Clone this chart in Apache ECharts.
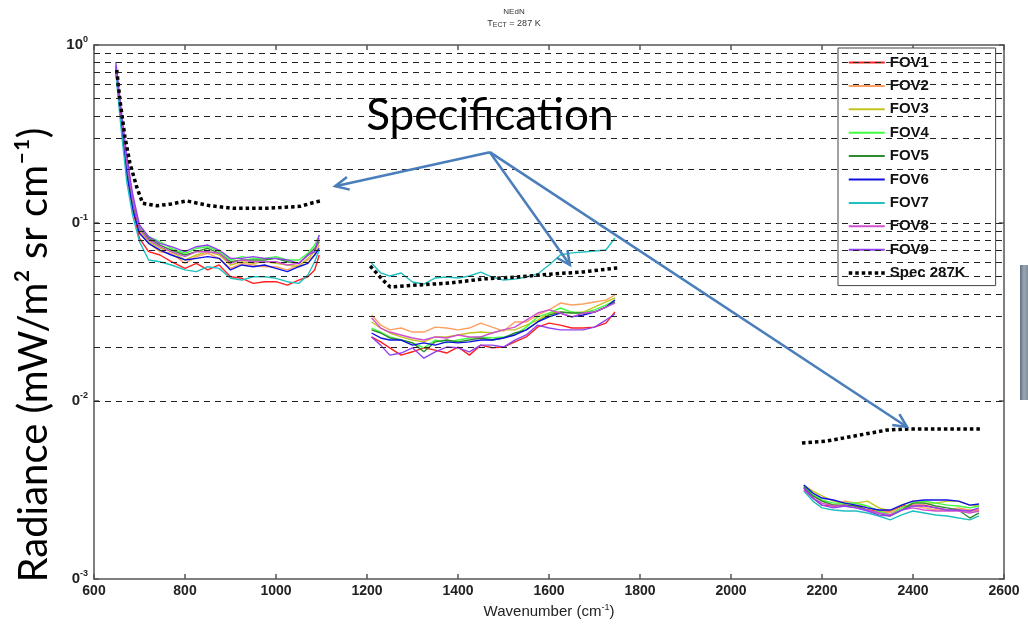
<!DOCTYPE html>
<html><head><meta charset="utf-8">
<script src="https://cdn.jsdelivr.net/npm/echarts@6/dist/echarts.min.js"></script>
<style>html,body{margin:0;padding:0;background:#fff}#c{width:1028px;height:624px}</style>
</head><body><div id="c"></div>
<script>
// ---------- data ----------
const fovNames = ['FOV1','FOV2','FOV3','FOV4','FOV5','FOV6','FOV7','FOV8','FOV9'];
const specName = 'Spec 287K';
const xTicks = [600, 2600, 200];
const yTickValues = [1, 0.1, 0.01, 0.001];
const yTickLabels = ['10^0', '0^-1', '0^-2', '0^-3'];
const gridValues = [0.002,0.003,0.004,0.005,0.006,0.007,0.008,0.009,0.01,
                    0.02,0.03,0.04,0.05,0.06,0.07,0.08,0.09,0.1,
                    0.2,0.3,0.4,0.5,0.6,0.7,0.8,0.9];

const wnLW = [648,660,672,685,700,720,745,770,800,825,850,875,900,925,950,975,1000,1025,1050,1070,1085,1095];
const wnMW = [1210,1230,1250,1275,1300,1325,1350,1375,1400,1425,1450,1475,1500,1525,1550,1575,1600,1625,1650,1675,1700,1725,1745];
const wnSW = [2160,2180,2200,2225,2250,2275,2300,2325,2350,2375,2400,2425,2450,2475,2500,2525,2545];

const FOV1_LW = [0.74,0.36,0.19,0.118,0.0820,0.0690,0.0661,0.0606,0.0556,0.0593,0.0545,0.0581,0.0499,0.0489,0.0458,0.0468,0.0468,0.0448,0.0478,0.0499,0.0545,0.0661];
const FOV2_LW = [0.75,0.38,0.20,0.125,0.0894,0.0769,0.0690,0.0676,0.0593,0.0647,0.0676,0.0633,0.0556,0.0593,0.0581,0.0568,0.0568,0.0545,0.0581,0.0620,0.0661,0.0752];
const FOV3_LW = [0.74,0.38,0.21,0.130,0.0913,0.0786,0.0721,0.0690,0.0620,0.0661,0.0690,0.0661,0.0581,0.0606,0.0593,0.0606,0.0593,0.0581,0.0568,0.0633,0.0690,0.0786];
const FOV4_LW = [0.76,0.40,0.22,0.135,0.0954,0.0838,0.0786,0.0721,0.0676,0.0721,0.0736,0.0690,0.0620,0.0647,0.0633,0.0633,0.0647,0.0620,0.0620,0.0676,0.0752,0.0856];
const FOV5_LW = [0.75,0.39,0.21,0.130,0.0933,0.0820,0.0752,0.0705,0.0661,0.0690,0.0721,0.0676,0.0606,0.0620,0.0620,0.0620,0.0633,0.0606,0.0593,0.0661,0.0721,0.0786];
const FOV6_LW = [0.72,0.36,0.19,0.120,0.0875,0.0769,0.0705,0.0661,0.0620,0.0633,0.0647,0.0633,0.0545,0.0581,0.0568,0.0581,0.0556,0.0533,0.0568,0.0593,0.0661,0.0721];
const FOV7_LW = [0.70,0.33,0.17,0.110,0.0786,0.0620,0.0606,0.0581,0.0545,0.0533,0.0568,0.0556,0.0489,0.0478,0.0499,0.0499,0.0489,0.0468,0.0458,0.0510,0.0606,0.0705];
const FOV8_LW = [0.77,0.40,0.22,0.135,0.0933,0.0803,0.0736,0.0690,0.0647,0.0690,0.0690,0.0676,0.0593,0.0620,0.0606,0.0606,0.0606,0.0581,0.0593,0.0661,0.0705,0.0820];
const FOV9_LW = [0.80,0.43,0.24,0.145,0.0974,0.0838,0.0769,0.0736,0.0690,0.0736,0.0752,0.0705,0.0633,0.0633,0.0647,0.0633,0.0633,0.0620,0.0593,0.0661,0.0690,0.0856];

const FOV1_MW = [0.0229,0.0215,0.0199,0.0181,0.0189,0.0199,0.0193,0.0186,0.0201,0.0181,0.0206,0.0199,0.0201,0.0215,0.0229,0.0260,0.0274,0.0267,0.0257,0.0257,0.0260,0.0274,0.0316];
const FOV2_MW = [0.0304,0.0267,0.0251,0.0257,0.0244,0.0244,0.0260,0.0257,0.0251,0.0257,0.0274,0.0260,0.0247,0.0278,0.0278,0.0304,0.0325,0.0355,0.0346,0.0351,0.0360,0.0369,0.0394];
const FOV3_MW = [0.0278,0.0257,0.0241,0.0229,0.0220,0.0215,0.0229,0.0229,0.0235,0.0241,0.0244,0.0241,0.0251,0.0251,0.0267,0.0285,0.0312,0.0316,0.0312,0.0316,0.0337,0.0360,0.0379];
const FOV4_MW = [0.0257,0.0244,0.0229,0.0220,0.0212,0.0199,0.0220,0.0212,0.0220,0.0226,0.0229,0.0226,0.0229,0.0235,0.0260,0.0297,0.0312,0.0333,0.0316,0.0312,0.0325,0.0346,0.0369];
const FOV5_MW = [0.0251,0.0241,0.0226,0.0220,0.0212,0.0189,0.0215,0.0220,0.0215,0.0220,0.0226,0.0220,0.0226,0.0241,0.0251,0.0278,0.0304,0.0316,0.0312,0.0312,0.0316,0.0337,0.0360];
const FOV6_MW = [0.0241,0.0226,0.0220,0.0220,0.0206,0.0212,0.0206,0.0215,0.0212,0.0215,0.0220,0.0220,0.0226,0.0235,0.0251,0.0278,0.0297,0.0312,0.0297,0.0304,0.0316,0.0337,0.0369];
const FOV7_MW = [0.0596,0.0524,0.0504,0.0524,0.0466,0.0454,0.0491,0.0497,0.0491,0.0504,0.0530,0.0497,0.0478,0.0484,0.0497,0.0517,0.0581,0.0661,0.0679,0.0687,0.0696,0.0705,0.0824];
const FOV8_MW = [0.0293,0.0257,0.0244,0.0235,0.0226,0.0220,0.0229,0.0226,0.0235,0.0229,0.0229,0.0241,0.0251,0.0260,0.0285,0.0312,0.0325,0.0312,0.0297,0.0312,0.0316,0.0337,0.0355];
const FOV9_MW = [0.0229,0.0206,0.0181,0.0186,0.0199,0.0174,0.0189,0.0201,0.0199,0.0189,0.0206,0.0206,0.0201,0.0220,0.0235,0.0267,0.0257,0.0251,0.0251,0.0251,0.0260,0.0285,0.0308];

const FOV1_SW = [0.00325,0.00285,0.00260,0.00257,0.00260,0.00257,0.00244,0.00241,0.00241,0.00257,0.00260,0.00260,0.00251,0.00244,0.00244,0.00241,0.00244];
const FOV2_SW = [0.00333,0.00296,0.00274,0.00260,0.00274,0.00267,0.00251,0.00241,0.00235,0.00251,0.00257,0.00251,0.00244,0.00244,0.00251,0.00244,0.00244];
const FOV3_SW = [0.00337,0.00312,0.00293,0.00274,0.00267,0.00267,0.00274,0.00251,0.00241,0.00260,0.00274,0.00267,0.00267,0.00274,0.00274,0.00260,0.00257];
const FOV4_SW = [0.00333,0.00296,0.00278,0.00267,0.00267,0.00267,0.00257,0.00241,0.00229,0.00251,0.00267,0.00274,0.00267,0.00260,0.00257,0.00251,0.00257];
const FOV5_SW = [0.00329,0.00293,0.00274,0.00260,0.00260,0.00257,0.00244,0.00235,0.00226,0.00244,0.00267,0.00267,0.00257,0.00251,0.00244,0.00220,0.00235];
const FOV6_SW = [0.00337,0.00304,0.00285,0.00278,0.00267,0.00260,0.00251,0.00244,0.00244,0.00260,0.00274,0.00278,0.00278,0.00278,0.00274,0.00260,0.00264];
const FOV7_SW = [0.00312,0.00274,0.00251,0.00244,0.00241,0.00241,0.00235,0.00226,0.00215,0.00229,0.00241,0.00235,0.00229,0.00226,0.00220,0.00215,0.00226];
const FOV8_SW = [0.00316,0.00285,0.00267,0.00257,0.00257,0.00251,0.00244,0.00235,0.00229,0.00244,0.00251,0.00244,0.00241,0.00241,0.00241,0.00235,0.00241];
const FOV9_SW = [0.00325,0.00285,0.00260,0.00251,0.00257,0.00251,0.00241,0.00229,0.00226,0.00244,0.00257,0.00257,0.00251,0.00244,0.00244,0.00241,0.00251];

const specWnLW = [650,657,668,679,694,707,738,770,804,855,905,980,1053,1081,1097];
const specLW   = [0.724,0.491,0.304,0.217,0.159,0.129,0.125,0.128,0.133,0.125,0.121,0.121,0.124,0.130,0.133];
const specWnMW = [1207,1235,1251,1310,1382,1455,1530,1602,1675,1750];
const specMW   = [0.0573,0.0478,0.0437,0.0448,0.0460,0.0485,0.0497,0.0516,0.0531,0.0559];
const specWnSW = [2156,2211,2283,2343,2393,2466,2547];
const specSW   = [0.00581,0.00596,0.00644,0.00687,0.00697,0.00697,0.00697];

// annotation anchors (data coordinates)
const annoText = 'Specification';
const annoTextAt = [1470, 0.40];
const arrowFrom = [1470, 0.25];
const arrowTips = [[1130, 0.161], [1646, 0.0581], [2387, 0.00714]];
const yAxisTitle = 'Radiance (mW/m² sr cm⁻¹)';

// ---------- styles ----------
const colors = ['#ff2020','#ffa060','#c4c420','#40ff40','#2f8a2f','#1010e0','#20c0c0','#d050d0','#9040f0'];
const fovLW = [FOV1_LW,FOV2_LW,FOV3_LW,FOV4_LW,FOV5_LW,FOV6_LW,FOV7_LW,FOV8_LW,FOV9_LW];
const fovMW = [FOV1_MW,FOV2_MW,FOV3_MW,FOV4_MW,FOV5_MW,FOV6_MW,FOV7_MW,FOV8_MW,FOV9_MW];
const fovSW = [FOV1_SW,FOV2_SW,FOV3_SW,FOV4_SW,FOV5_SW,FOV6_SW,FOV7_SW,FOV8_SW,FOV9_SW];

function pairs(wn, v) { return wn.map((w, i) => [w, v[i]]); }
function bands(a, b, c, wa, wb, wc) {
  return [].concat(pairs(wa, a), [[1150, '-']], pairs(wb, b), [[1950, '-']], pairs(wc, c));
}

const series = [{
  type: 'line', name: 'grid', data: [], z: 1, silent: true,
  markLine: {
    silent: true, symbol: ['none', 'none'], animation: false,
    label: { show: false },
    lineStyle: { type: [6, 5], color: '#222', width: 1 },
    data: gridValues.map(v => ({ yAxis: v }))
  }
}];
fovNames.forEach((n, i) => {
  series.push({
    type: 'line', name: n, symbol: 'none', showSymbol: false, z: 2 + i * 0.01,
    animation: false, color: colors[i],
    lineStyle: { width: 1.4, color: colors[i] },
    data: bands(fovLW[i], fovMW[i], fovSW[i], wnLW, wnMW, wnSW)
  });
});
series.push({
  type: 'line', name: specName, symbol: 'none', showSymbol: false, z: 3, animation: false,
  color: '#000', lineStyle: { width: 3.5, type: [3.5, 3], color: '#000' },
  data: bands(specLW, specMW, specSW, specWnLW, specWnMW, specWnSW)
});

const boldFont = 'Liberation Sans';
const axisLineStyle = { color: '#555', width: 1.5 };

const option = {
  backgroundColor: '#fff',
  animation: false,
  grid: { left: 94, right: 24, top: 45, bottom: 45, containLabel: false, outerBoundsMode: 'none' },
  xAxis: [{
    type: 'value', min: xTicks[0], max: xTicks[1], interval: xTicks[2],
    axisLine: { lineStyle: axisLineStyle },
    axisTick: { inside: true, length: 5, lineStyle: axisLineStyle },
    splitLine: { show: false },
    axisLabel: { fontFamily: boldFont, fontWeight: 'bold', fontSize: 14, color: '#222', margin: 5,
      formatter: v => String(v) },
    name: 'Wavenumber (cm{s|-1})', nameLocation: 'middle', nameGap: 24,
    nameTextStyle: { fontFamily: boldFont, fontSize: 15, color: '#222',
      rich: { s: { fontFamily: boldFont, fontSize: 9, color: '#222', padding: [0, 0, 9, 0] } } }
  }, {
    type: 'value', position: 'top', min: xTicks[0], max: xTicks[1], interval: xTicks[2],
    axisLine: { show: true, lineStyle: axisLineStyle },
    axisTick: { show: true, inside: true, length: 5, lineStyle: axisLineStyle },
    axisLabel: { show: false }, splitLine: { show: false }
  }],
  yAxis: [{
    type: 'log', logBase: 10, min: 0.001, max: 1,
    axisLine: { show: true, lineStyle: axisLineStyle },
    axisTick: { show: true, inside: true, length: 5, lineStyle: axisLineStyle },
    splitLine: { show: false },
    axisLabel: {
      margin: 6,
      formatter: function (v) {
        let k = yTickValues.findIndex(t => Math.abs(Math.log10(t) - Math.log10(v)) < 1e-6);
        if (k < 0) return '';
        const parts = yTickLabels[k].split('^');
        return '{b|' + parts[0] + '}{s|' + parts[1] + '}';
      },
      rich: {
        b: { fontFamily: boldFont, fontWeight: 'bold', fontSize: 15, color: '#222' },
        s: { fontFamily: boldFont, fontWeight: 'bold', fontSize: 9, color: '#222', padding: [0, 0, 10, 0] }
      }
    }
  }, {
    type: 'log', logBase: 10, min: 0.001, max: 1, position: 'right',
    axisLine: { show: true, lineStyle: axisLineStyle },
    axisTick: { show: true, inside: true, length: 5, lineStyle: axisLineStyle },
    axisLabel: { show: false }, splitLine: { show: false }
  }],
  legend: {
    orient: 'vertical', left: 838, top: 48,
    data: fovNames.map(n => ({ name: n })).concat([{ name: specName, lineStyle: { width: 3.5, type: [3.5, 3] } }]),
    itemWidth: 36, itemHeight: 14, itemGap: 8.4,
    padding: [7, 30, 5, 9],
    backgroundColor: '#fff', borderColor: '#444', borderWidth: 1,
    itemStyle: { opacity: 0 },
    textStyle: { fontFamily: boldFont, fontWeight: 'bold', fontSize: 15, color: '#111' },
    selectedMode: false
  },
  title: {
    text: 'NEdN',
    subtext: 'T{s|ECT} = 287 K',
    left: 509, top: 3, textAlign: 'center', itemGap: 2,
    textStyle: { fontFamily: boldFont, fontSize: 8, fontWeight: 'normal', color: '#333' },
    subtextStyle: { fontFamily: boldFont, fontSize: 9, color: '#333',
      rich: { s: { fontFamily: boldFont, fontSize: 7, color: '#333', padding: [4, 0, 0, 0] } } }
  },
  series: series
};

const chart = echarts.init(document.getElementById('c'));
chart.setOption(option);

// annotations anchored in data space
const px = p => chart.convertToPixel({ xAxisIndex: 0, yAxisIndex: 0 }, p);
const from = px(arrowFrom);
const arrowColor = '#4a7ebb';
const graphics = [];
arrowTips.forEach(t => {
  const tip = px(t);
  const dx = tip[0] - from[0], dy = tip[1] - from[1];
  const len = Math.sqrt(dx * dx + dy * dy);
  const ux = dx / len, uy = dy / len;
  const L = 15, a = 0.45;
  const h1 = [tip[0] - L * (ux * Math.cos(a) - uy * Math.sin(a)), tip[1] - L * (uy * Math.cos(a) + ux * Math.sin(a))];
  const h2 = [tip[0] - L * (ux * Math.cos(a) + uy * Math.sin(a)), tip[1] - L * (uy * Math.cos(a) - ux * Math.sin(a))];
  graphics.push({ type: 'line', z: 50, shape: { x1: from[0], y1: from[1], x2: tip[0], y2: tip[1] },
    style: { stroke: arrowColor, lineWidth: 2.5 } });
  graphics.push({ type: 'polyline', z: 50, shape: { points: [h1, tip, h2] },
    style: { stroke: arrowColor, lineWidth: 2.5, fill: null } });
});
const tp = px(annoTextAt);
graphics.push({ type: 'text', z: 50, x: tp[0], y: tp[1],
  style: { text: annoText, fontFamily: 'Lato', fontSize: 44, fill: '#000', align: 'center', verticalAlign: 'middle' } });
graphics.push({ type: 'text', z: 50, x: 34, y: 355, rotation: Math.PI / 2,
  style: { text: yAxisTitle, fontFamily: 'Lato', fontSize: 40, fill: '#000', align: 'center', verticalAlign: 'middle' } });
graphics.push({ type: 'rect', z: 50, shape: { x: 1020, y: 265, width: 8, height: 135 },
  style: { fill: new echarts.graphic.LinearGradient(0, 0, 1, 0, [
    { offset: 0, color: '#5e6e7e' }, { offset: 0.5, color: '#9aa8b6' }, { offset: 1, color: '#7f8d9a' }]) } });
chart.setOption({ graphic: graphics });
</script>
</body></html>
